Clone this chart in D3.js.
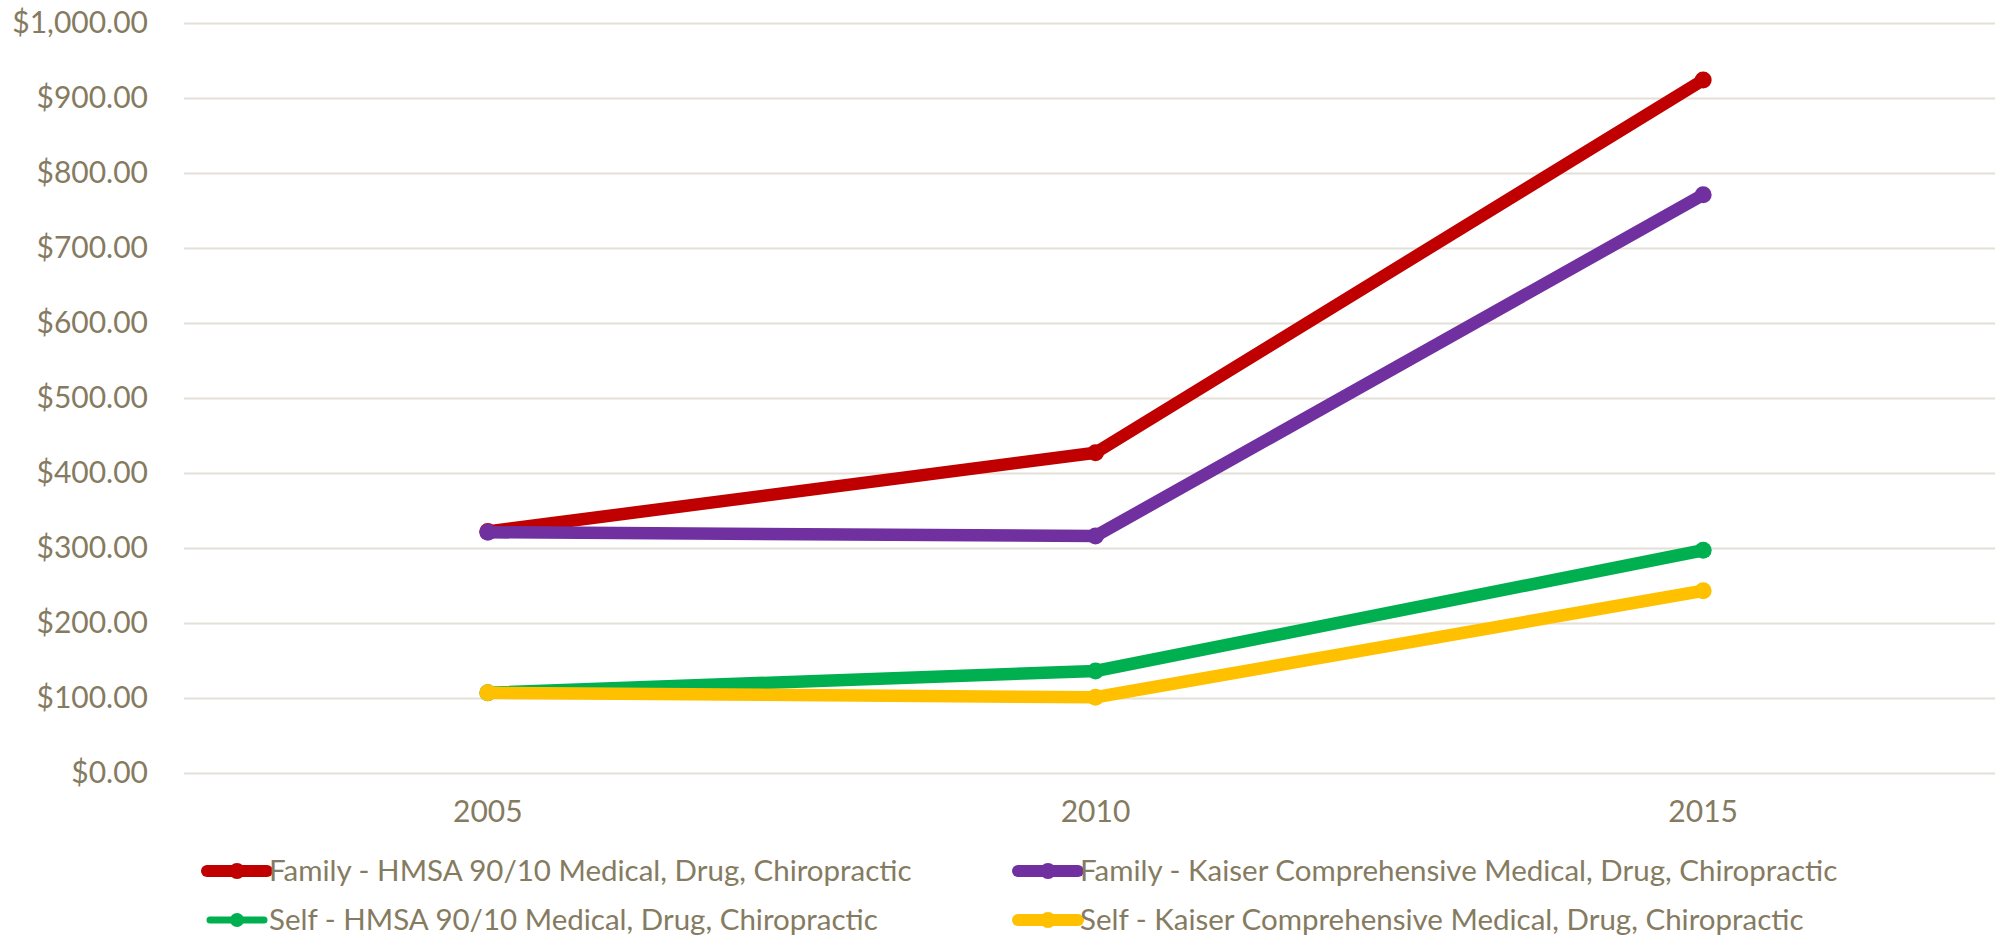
<!DOCTYPE html>
<html>
<head>
<meta charset="utf-8">
<script src="https://cdn.jsdelivr.net/npm/d3@7"></script>
<style>
  body { margin: 0; background: #fff; }
  text { font-family: Lato, "Open Sans", sans-serif; fill: #857b61; }
</style>
</head>
<body>
<div id="chart"></div>
<script>
const width = 1995
const height = 936

// datos
const years = ["2005", "2010", "2015"]
const seriesNames = [
    "Family - HMSA 90/10 Medical, Drug, Chiropractic",
    "Family - Kaiser Comprehensive Medical, Drug, Chiropractic",
    "Self - HMSA 90/10 Medical, Drug, Chiropractic",
    "Self - Kaiser Comprehensive Medical, Drug, Chiropractic"
]
const familyHmsa = [322, 427, 924]
const familyKaiser = [321, 316, 771]
const selfHmsa = [107, 136, 297]
const selfKaiser = [107, 101, 243]
const yTicks = [0, 100, 200, 300, 400, 500, 600, 700, 800, 900, 1000]
const colors = ["#c00000", "#7030a0", "#00b050", "#ffc000"]

const series = [familyHmsa, familyKaiser, selfHmsa, selfKaiser].map((vals, i) => ({
    name: seriesNames[i],
    color: colors[i],
    values: vals.map((v, j) => ({ year: years[j], value: v }))
}))

const plot = { left: 184, right: 2007, top: 23, bottom: 773 }
const fontSize = 30

const svg = d3.select("div#chart")
    .append("svg")
    .attr("width", width)
    .attr("height", height)

const x = d3.scaleBand().domain(years).range([plot.left, plot.right])
const y = d3.scaleLinear().domain([0, 1000]).range([plot.bottom, plot.top])

// eje Y con las líneas de la rejilla
const yAxis = d3.axisLeft(y)
    .tickValues(yTicks)
    .tickFormat(d3.format("$,.2f"))
    .tickSize(-(width - plot.left))
    .tickPadding(36)

svg.append("g")
    .attr("transform", `translate(${plot.left},0)`)
    .call(yAxis)
    .call(g => g.select(".domain").remove())
    .call(g => g.selectAll(".tick line").attr("stroke", "#e4e0d7").attr("stroke-width", 2))
    .call(g => g.selectAll(".tick text").attr("font-size", fontSize).attr("fill", "#857b61"))

// eje X
const xAxis = d3.axisBottom(x).tickSize(0).tickPadding(28)

svg.append("g")
    .attr("transform", `translate(0,${plot.bottom})`)
    .call(xAxis)
    .call(g => g.select(".domain").remove())
    .call(g => g.selectAll(".tick text").attr("font-size", fontSize).attr("fill", "#857b61"))

// líneas
const line = d3.line()
    .x(d => x(d.year) + x.bandwidth() / 2)
    .y(d => y(d.value))

const lines = svg.append("g")
series.forEach(s => {
    const g = lines.append("g")
    g.append("path")
        .attr("d", line(s.values))
        .attr("fill", "none")
        .attr("stroke", s.color)
        .attr("stroke-width", 12.5)
        .attr("stroke-linejoin", "round")
    g.selectAll("circle").data(s.values)
        .join("circle")
        .attr("cx", d => x(d.year) + x.bandwidth() / 2)
        .attr("cy", d => y(d.value))
        .attr("r", 8.5)
        .attr("fill", s.color)
})

// leyenda (dos columnas)
const legendX = [207, 1018]
const legendY = [871, 920]
const legend = svg.append("g")
series.forEach((s, i) => {
    const lx = legendX[i % 2]
    const ly = legendY[Math.floor(i / 2)]
    const thin = i === 2
    const g = legend.append("g").attr("transform", `translate(${lx},${ly})`)
    g.append("line")
        .attr("x1", thin ? 3 : 0).attr("x2", thin ? 57 : 60)
        .attr("stroke", s.color)
        .attr("stroke-width", thin ? 7 : 12)
        .attr("stroke-linecap", "round")
    g.append("circle")
        .attr("cx", 30)
        .attr("r", thin ? 7 : 8)
        .attr("fill", s.color)
    g.append("text")
        .attr("x", 62)
        .attr("dy", "0.35em")
        .attr("font-size", 29.5)
        .text(s.name)
})
</script>
</body>
</html>
